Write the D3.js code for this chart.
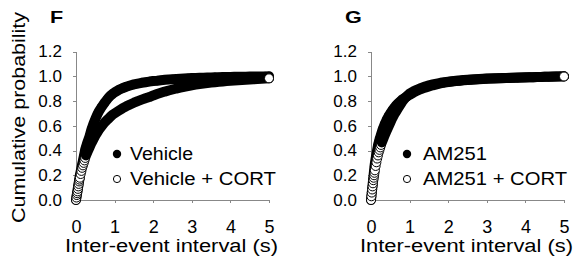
<!DOCTYPE html>
<html>
<head>
<meta charset="utf-8">
<script src="https://cdn.jsdelivr.net/npm/d3@7"></script>
<style>
  body { margin: 0; background: #fff; }
  svg text { font-family: "Liberation Sans", Arial, sans-serif; fill: #000; }
  .axis path, .axis line { stroke: #888; stroke-width: 1; shape-rendering: crispEdges; }
</style>
</head>
<body>
<svg id="chart" width="582" height="264"></svg>
<script>
// inter-event interval bins (s)
const intervals = [
  0, 0.01, 0.02, 0.03, 0.04, 0.05, 0.06, 0.07, 0.08, 0.09, 0.1,
  0.12, 0.14, 0.16, 0.18, 0.2, 0.22, 0.24, 0.26, 0.28, 0.3,
  0.35, 0.4, 0.45, 0.5, 0.55, 0.6, 0.65, 0.7, 0.75, 0.8, 0.85, 0.9, 0.95, 1.0,
  1.1, 1.2, 1.3, 1.4, 1.5, 1.6, 1.7, 1.8, 1.9, 2.0,
  2.1, 2.2, 2.3, 2.4, 2.5, 2.6, 2.7, 2.8, 2.9, 3.0,
  3.1, 3.2, 3.3, 3.4, 3.5, 3.6, 3.7, 3.8, 3.9, 4.0,
  4.1, 4.2, 4.3, 4.4, 4.5, 4.6, 4.7, 4.8, 4.9, 5.0
];

// cumulative probability, panel F
const vehicle = [
  0, 0.02, 0.04, 0.06, 0.08, 0.10, 0.12, 0.14, 0.16, 0.18, 0.20,
  0.23, 0.26, 0.29, 0.32, 0.35, 0.38, 0.41, 0.43, 0.45, 0.47,
  0.515, 0.57, 0.615, 0.655, 0.69, 0.72, 0.745, 0.768, 0.79, 0.81, 0.83, 0.845, 0.858, 0.87,
  0.888, 0.903, 0.915, 0.925, 0.934, 0.941, 0.947, 0.952, 0.957, 0.961,
  0.964, 0.968, 0.971, 0.974, 0.976, 0.978, 0.98, 0.982, 0.984, 0.985,
  0.986, 0.987, 0.988, 0.989, 0.99, 0.991, 0.992, 0.993, 0.993, 0.994,
  0.995, 0.995, 0.996, 0.996, 0.997, 0.997, 0.998, 0.998, 0.999, 1.0
];
const vehicleCort = [
  0, 0.02, 0.04, 0.055, 0.07, 0.09, 0.11, 0.13, 0.15, 0.165, 0.18,
  0.21, 0.235, 0.26, 0.28, 0.30, 0.32, 0.34, 0.36, 0.375, 0.39,
  0.425, 0.46, 0.49, 0.52, 0.545, 0.57, 0.59, 0.61, 0.63, 0.645, 0.66, 0.675, 0.69, 0.70,
  0.72, 0.74, 0.757, 0.772, 0.786, 0.799, 0.811, 0.822, 0.832, 0.845,
  0.856, 0.866, 0.876, 0.885, 0.893, 0.901, 0.908, 0.915, 0.921, 0.927,
  0.932, 0.937, 0.941, 0.945, 0.949, 0.952, 0.955, 0.958, 0.961, 0.963,
  0.965, 0.967, 0.969, 0.971, 0.973, 0.975, 0.977, 0.979, 0.981, 0.983
];

// cumulative probability, panel G
const am251 = [
  0, 0.03, 0.06, 0.09, 0.12, 0.15, 0.18, 0.21, 0.24, 0.27, 0.295,
  0.335, 0.37, 0.405, 0.44, 0.465, 0.49, 0.51, 0.53, 0.55, 0.57,
  0.61, 0.645, 0.675, 0.70, 0.725, 0.745, 0.765, 0.78, 0.795, 0.81, 0.82, 0.83, 0.84, 0.85,
  0.868, 0.884, 0.897, 0.908, 0.918, 0.927, 0.935, 0.942, 0.948, 0.953,
  0.957, 0.961, 0.964, 0.967, 0.970, 0.972, 0.974, 0.976, 0.978, 0.98,
  0.981, 0.982, 0.983, 0.984, 0.985, 0.986, 0.987, 0.988, 0.989, 0.99,
  0.991, 0.992, 0.993, 0.994, 0.995, 0.996, 0.997, 0.998, 0.999, 1.0
];
const am251Cort = [
  0, 0.03, 0.06, 0.085, 0.11, 0.135, 0.16, 0.18, 0.20, 0.22, 0.24,
  0.275, 0.305, 0.335, 0.36, 0.385, 0.405, 0.425, 0.445, 0.465, 0.48,
  0.52, 0.555, 0.59, 0.625, 0.66, 0.69, 0.715, 0.74, 0.765, 0.79, 0.81, 0.83, 0.845, 0.86,
  0.878, 0.893, 0.906, 0.917, 0.926, 0.934, 0.941, 0.947, 0.952, 0.956,
  0.96, 0.963, 0.966, 0.969, 0.971, 0.973, 0.975, 0.977, 0.979, 0.981,
  0.982, 0.983, 0.984, 0.985, 0.986, 0.987, 0.988, 0.989, 0.99, 0.991,
  0.992, 0.992, 0.993, 0.994, 0.995, 0.995, 0.996, 0.997, 0.998, 0.998
];

const xTicks = [0, 1, 2, 3, 4, 5];
const yTicks = [0, 0.2, 0.4, 0.6, 0.8, 1.0, 1.2];

const R = 4.5;          // marker radius
const SPARSE = 0.78;    // slope (per s) above which single open rings stay visible

const svg = d3.select('#chart');

const panels = [
  { letter: 'F', left: 76, legX: 117, filled: vehicle, open: vehicleCort,
    labels: ['Vehicle', 'Vehicle + CORT'], labelLen: [63, 146], yTitle: true },
  { letter: 'G', left: 371, legX: 407, filled: am251, open: am251Cort,
    labels: ['AM251', 'AM251 + CORT'], labelLen: [64, 144], yTitle: false }
];

panels.forEach(p => {
  const x = d3.scaleLinear().domain([0, 5]).range([p.left, p.left + 193]);
  const y = d3.scaleLinear().domain([0, 1.2]).range([200, 51.5]);
  const g = svg.append('g');

  // axes
  g.append('g')
    .attr('class', 'axis')
    .attr('transform', 'translate(0,200)')
    .call(d3.axisBottom(x).tickValues(xTicks).tickFormat(d3.format('d'))
      .tickSize(3).tickSizeOuter(0).tickPadding(17))
    .call(a => a.selectAll('text').attr('font-size', 18).attr('font-family', null));

  g.append('g')
    .attr('class', 'axis')
    .attr('transform', `translate(${p.left},0)`)
    .call(d3.axisLeft(y).tickValues(yTicks).tickFormat(d3.format('.1f'))
      .tickSize(3).tickSizeOuter(0).tickPadding(11))
    .call(a => a.selectAll('text').attr('font-size', 17).attr('font-family', null));

  const line = d3.line().x(d => x(d[0])).y(d => y(d[1]));
  const band = (sel, data) => sel.append('path')
    .datum(data)
    .attr('d', line)
    .attr('fill', 'none')
    .attr('stroke', '#000')
    .attr('stroke-width', 2 * R + 1)
    .attr('stroke-linecap', 'round')
    .attr('stroke-linejoin', 'round');

  // filled series: dense markers merge into a solid band
  const fPts = intervals.map((t, i) => [t, p.filled[i]]);
  const fg = g.append('g');
  band(fg, fPts);
  fg.selectAll('circle')
    .data(fPts)
    .join('circle')
    .attr('cx', d => x(d[0]))
    .attr('cy', d => y(d[1]))
    .attr('r', R)
    .attr('fill', '#000');

  // open series: rings stay visible only where the curve is steep (sparse points)
  const oPts = intervals.map((t, i) => [t, p.open[i]]);
  const slope = i => (oPts[i + 1][1] - oPts[i][1]) / (oPts[i + 1][0] - oPts[i][0]);
  let k = 0;
  while (k < oPts.length - 1 && slope(k) > SPARSE) k++;
  const og = g.append('g');
  const ring = (sel, data) => sel.selectAll(null)
    .data(data)
    .join('circle')
    .attr('cx', d => x(d[0]))
    .attr('cy', d => y(d[1]))
    .attr('r', R)
    .attr('fill', '#fff')
    .attr('stroke', '#000')
    .attr('stroke-width', 1);
  ring(og.append('g'), oPts.slice(0, k));
  band(og, oPts.slice(k));
  ring(og.append('g'), oPts.slice(-1));

  // legend
  const leg = g.append('g');
  leg.append('circle').attr('cx', p.legX).attr('cy', 154).attr('r', 4.2).attr('fill', '#000');
  leg.append('circle').attr('cx', p.legX).attr('cy', 179).attr('r', 3.6)
    .attr('fill', '#fff').attr('stroke', '#000').attr('stroke-width', 1);
  [0, 1].forEach(j => {
    leg.append('text')
      .attr('x', p.legX + (p.yTitle ? 13 : 16))
      .attr('y', 160 + 25 * j)
      .attr('font-size', 18)
      .attr('textLength', p.labelLen[j])
      .attr('lengthAdjust', 'spacingAndGlyphs')
      .text(p.labels[j]);
  });

  // titles
  g.append('text')
    .attr('x', x(2.5) - 1)
    .attr('y', 252)
    .attr('text-anchor', 'middle')
    .attr('font-size', 18)
    .attr('textLength', 213)
    .attr('lengthAdjust', 'spacingAndGlyphs')
    .text('Inter-event interval (s)');

  g.append('text')
    .attr('transform', `translate(${p.left - 26},23) scale(1.35,1)`)
    .attr('font-size', 16)
    .attr('font-weight', 'bold')
    .text(p.letter);

  if (p.yTitle) {
    g.append('text')
      .attr('transform', 'translate(25,117.5) rotate(-90)')
      .attr('text-anchor', 'middle')
      .attr('font-size', 18)
      .attr('textLength', 211)
      .attr('lengthAdjust', 'spacingAndGlyphs')
      .text('Cumulative probability');
  }
});
</script>
</body>
</html>
